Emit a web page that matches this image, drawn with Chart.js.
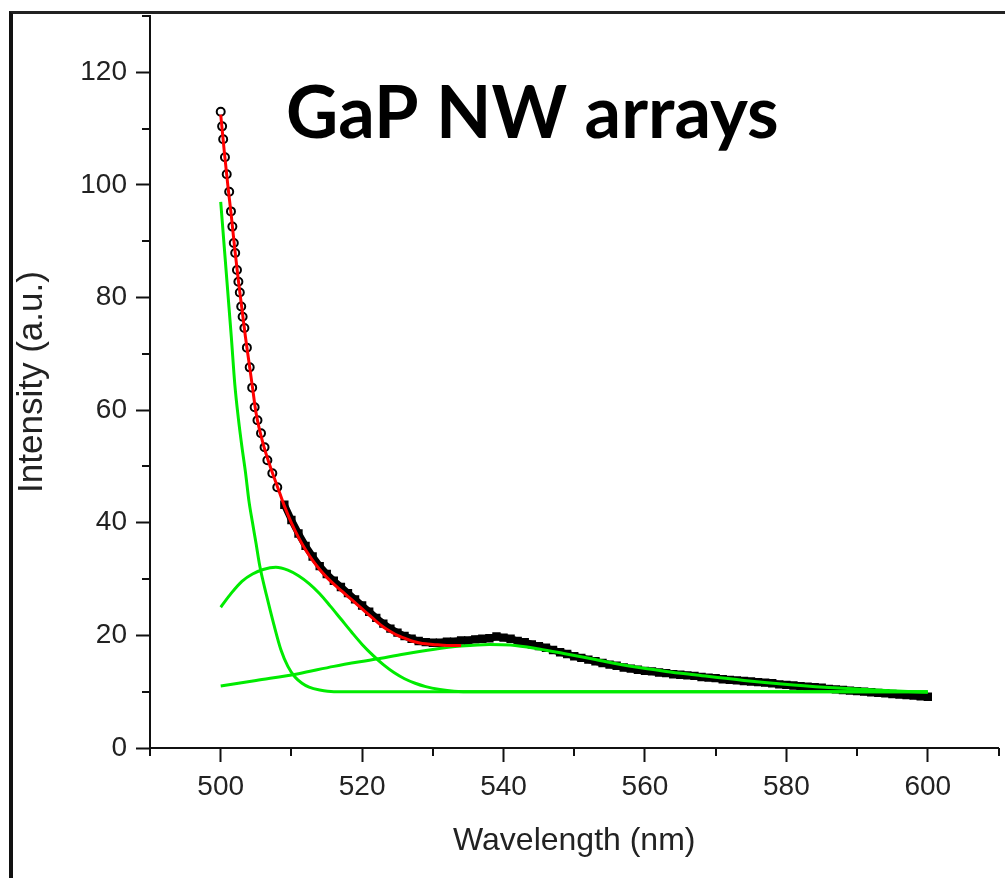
<!DOCTYPE html>
<html>
<head>
<meta charset="utf-8">
<script src="https://cdn.jsdelivr.net/npm/chart.js@4.4.1/dist/chart.umd.min.js"></script>
<style>
  html, body { margin: 0; padding: 0; background: #fff; }
  #wrap { position: relative; width: 1005px; height: 878px; }
  #frame { position: absolute; left: 9px; top: 11px; right: 0; bottom: 0;
           border-left: 4px solid #111; border-top: 3px solid #222; pointer-events: none; }
</style>
</head>
<body>
<div id="wrap">
  <canvas id="my-chart"></canvas>
  <div id="frame"></div>
</div>
<script>
'use strict';

// measured spectrum (black open markers)
const dataX = [500.0, 500.2, 500.35, 500.6, 500.85, 501.2, 501.45, 501.65, 501.85, 502.05, 502.3, 502.5, 502.7, 502.9, 503.1, 503.35, 503.7, 504.1, 504.45, 504.8, 505.2, 505.7, 506.2, 506.6, 507.3, 508.0,
  509, 510, 511, 512, 513, 514, 515, 516, 517, 518, 519, 520, 521, 522, 523, 524, 525, 526, 527, 528, 529, 530,
  531, 532, 533, 534, 535, 536, 537, 538, 539, 540, 541, 542, 543, 544, 545, 546, 547, 548, 549, 550,
  551, 552, 553, 554, 555, 556, 557, 558, 559, 560, 561, 562, 563, 564, 565, 566, 567, 568, 569, 570,
  571, 572, 573, 574, 575, 576, 577, 578, 579, 580, 581, 582, 583, 584, 585, 586, 587, 588, 589, 590,
  591, 592, 593, 594, 595, 596, 597, 598, 599, 600];
const dataY = [113.0, 110.4, 108.1, 104.9, 101.9, 98.8, 95.3, 92.6, 89.7, 87.9, 84.9, 82.8, 80.9, 78.4, 76.6, 74.6, 71.1, 67.6, 64.0, 60.5, 58.2, 55.9, 53.4, 51.1, 48.8, 46.3,
  43.2, 40.5, 38.1, 35.9, 34.0, 32.3, 30.9, 29.7, 28.6, 27.5, 26.4, 25.3, 24.2, 23.1, 22.1, 21.2, 20.5, 19.9, 19.4, 19.0, 18.8, 18.7,
  18.7, 18.9, 18.9, 19.1, 19.1, 19.3, 19.4, 19.5, 19.8, 19.6, 19.4, 19.0, 18.8, 18.4, 18.1, 17.8, 17.4, 17.0, 16.7, 16.3,
  16.0, 15.7, 15.4, 15.1, 14.8, 14.6, 14.3, 14.1, 13.9, 13.7, 13.6, 13.4, 13.3, 13.1, 13.0, 12.9, 12.8, 12.6, 12.5, 12.4,
  12.2, 12.1, 12.0, 11.9, 11.8, 11.7, 11.6, 11.5, 11.3, 11.2, 11.1, 11.0, 10.9, 10.8, 10.7, 10.5, 10.4, 10.3, 10.2, 10.1,
  10.0, 9.9, 9.8, 9.7, 9.6, 9.5, 9.4, 9.3, 9.2, 9.1];

// cumulative fit (red)
const fitX = [500, 500.5, 501, 501.5, 502, 502.5, 503, 503.5, 504, 504.5, 505, 506, 507, 508, 509, 510, 511, 512, 513, 514, 515, 516, 517, 518, 519, 520, 521, 522, 523, 524, 525, 526, 527, 528, 529, 530, 532, 534];
const fitY = [112.5, 106, 100, 94.5, 88.5, 83, 78, 73, 68.5, 64, 59.5, 54, 50, 46.5, 43, 40, 37.4, 35.2, 33.3, 31.7, 30.3, 29.1, 28.0, 26.9, 25.8, 24.7, 23.6, 22.5, 21.5, 20.7, 20.0, 19.5, 19.0, 18.7, 18.5, 18.4, 18.2, 18.2];

// fitted peaks (green)
const peak1X = [500, 500.5, 501, 501.5, 502, 502.5, 503, 503.5, 504, 504.5, 505, 505.5, 506.5, 507.5, 508.5, 509.5, 510.5, 511.5, 512.5, 514, 516, 600];
const peak1Y = [97, 89, 81, 73, 64.5, 58.5, 53.5, 49, 43.8, 40, 36.3, 32.5, 27, 22, 17.5, 14.5, 12.6, 11.5, 10.8, 10.3, 10.0, 10.0];

const peak2X = [500, 501.5, 503, 504.5, 506, 507.8, 509.5, 511, 512.5, 514, 515.5, 517, 518.5, 520, 521.5, 523, 524.5, 526, 527.5, 529, 531, 533, 536, 600];
const peak2Y = [25, 27.5, 29.6, 30.9, 31.7, 32.1, 31.6, 30.6, 29.2, 27.4, 25.2, 22.9, 20.6, 18.4, 16.5, 14.8, 13.4, 12.3, 11.5, 10.9, 10.4, 10.1, 10.0, 10.0];

const peak3X = [500, 505, 511, 516, 522, 526, 530, 534, 538, 541, 545, 548.5, 553, 558, 563, 567, 574, 581, 588, 594, 600];
const peak3Y = [11, 12, 13.2, 14.5, 15.8, 16.7, 17.5, 18.1, 18.4, 18.3, 17.6, 16.8, 15.7, 14.5, 13.6, 13.0, 12.0, 11.2, 10.6, 10.2, 9.9];

// axis ticks
const xTicks = [500, 520, 540, 560, 580, 600];
const xMinorTicks = [490, 510, 530, 550, 570, 590, 610];
const yTicks = [0, 20, 40, 60, 80, 100, 120];
const yMinorTicks = [10, 30, 50, 70, 90, 110, 130];

const plotTitle = 'GaP NW arrays';
const xTitle = 'Wavelength (nm)';
const yTitle = 'Intensity (a.u.)';

const tickFont = "'Liberation Sans', Arial, sans-serif";
const GREEN = 'rgb(0, 235, 0)';
const SPARSE_END = 508.5; // markers stay apart on the steep part

function toPoints(xs, ys) {
  let pts = [];
  for (let i = 0; i < xs.length; i++) {
    pts.push({ x: xs[i], y: ys[i] });
  }
  return pts;
}

function isSparse(ctx) {
  return ctx.raw && ctx.raw.x < SPARSE_END;
}

function greenLine(xs, ys) {
  return {
    data: toPoints(xs, ys),
    showLine: true,
    borderColor: GREEN,
    borderWidth: 3,
    pointRadius: 0,
    cubicInterpolationMode: 'monotone',
    order: 2
  };
}

const minorTickPlugin = {
  id: 'minorTicks',
  afterDraw(chart) {
    const ctx = chart.ctx;
    const x = chart.scales.x;
    const y = chart.scales.y;
    ctx.save();
    ctx.strokeStyle = '#111';
    ctx.lineWidth = 2;
    for (let i = 0; i < xMinorTicks.length; i++) {
      let px = Math.round(x.getPixelForValue(xMinorTicks[i]));
      ctx.beginPath();
      ctx.moveTo(px, x.top);
      ctx.lineTo(px, x.top + 8);
      ctx.stroke();
    }
    for (let i = 0; i < yMinorTicks.length; i++) {
      let py = Math.round(y.getPixelForValue(yMinorTicks[i]));
      ctx.beginPath();
      ctx.moveTo(y.right, py);
      ctx.lineTo(y.right - 8, py);
      ctx.stroke();
    }
    ctx.restore();
  }
};

const titlePlugin = {
  id: 'plotTitle',
  afterDraw(chart) {
    const ctx = chart.ctx;
    ctx.save();
    ctx.font = "bold 72px Lato, 'Open Sans', sans-serif";
    ctx.fillStyle = '#000';
    ctx.textBaseline = 'alphabetic';
    ctx.fillText(plotTitle, 286, 138);
    ctx.restore();
  }
};

const ctx = document.getElementById('my-chart').getContext('2d');

let myChart = new Chart(ctx, {
  type: 'scatter',
  data: {
    datasets: [
      {
        data: toPoints(dataX, dataY),
        showLine: true,
        borderColor: '#000',
        borderWidth: 7,
        segment: {
          borderColor: c => (c.p0.parsed.x < SPARSE_END ? 'rgba(0,0,0,0)' : '#000')
        },
        pointStyle: c => (isSparse(c) ? 'circle' : 'rect'),
        pointRadius: c => (isSparse(c) ? 4 : 4.5),
        pointBorderWidth: 2,
        pointBorderColor: '#000',
        pointBackgroundColor: c => (isSparse(c) ? '#fff' : '#000'),
        order: 3
      },
      greenLine(peak1X, peak1Y),
      greenLine(peak2X, peak2Y),
      greenLine(peak3X, peak3Y),
      {
        data: toPoints(fitX, fitY),
        showLine: true,
        borderColor: 'rgb(255, 0, 0)',
        borderWidth: 3,
        pointRadius: 0,
        cubicInterpolationMode: 'monotone',
        order: 1
      }
    ]
  },
  options: {
    responsive: true,
    maintainAspectRatio: false,
    animation: false,
    layout: { padding: { top: 16, right: 2, left: 0, bottom: 0 } },
    plugins: {
      legend: { display: false },
      tooltip: { enabled: false }
    },
    scales: {
      x: {
        type: 'linear',
        min: 490,
        max: 610,
        afterBuildTicks: function (scale) {
          scale.ticks = xTicks.map(v => ({ value: v }));
        },
        afterFit: function (scale) {
          scale.height = 130;
          scale.paddingLeft = 0;
          scale.paddingRight = 0;
        },
        grid: { drawOnChartArea: false, drawTicks: true, tickLength: 14, tickWidth: 2, tickColor: '#111' },
        border: { display: true, color: '#111', width: 2 },
        ticks: { color: '#222', font: { family: tickFont, size: 28 }, padding: 8, maxRotation: 0 },
        title: {
          display: true,
          text: xTitle,
          color: '#222',
          font: { family: "'Liberation Sans', Arial, sans-serif", size: 32 },
          padding: { top: 0, bottom: 18 }
        }
      },
      y: {
        type: 'linear',
        min: 0,
        max: 130,
        afterBuildTicks: function (scale) {
          scale.ticks = yTicks.map(v => ({ value: v }));
        },
        afterFit: function (scale) {
          scale.width = 150;
          scale.paddingTop = 0;
          scale.paddingBottom = 0;
        },
        grid: { drawOnChartArea: false, drawTicks: true, tickLength: 14, tickWidth: 2, tickColor: '#111' },
        border: { display: true, color: '#111', width: 2 },
        ticks: { color: '#222', font: { family: tickFont, size: 28 }, padding: 9 },
        title: {
          display: true,
          text: yTitle,
          color: '#222',
          font: { family: "'Liberation Sans', Arial, sans-serif", size: 35 },
          padding: { top: 11, bottom: 0 }
        }
      }
    }
  },
  plugins: [minorTickPlugin, titlePlugin]
});
</script>
</body>
</html>
